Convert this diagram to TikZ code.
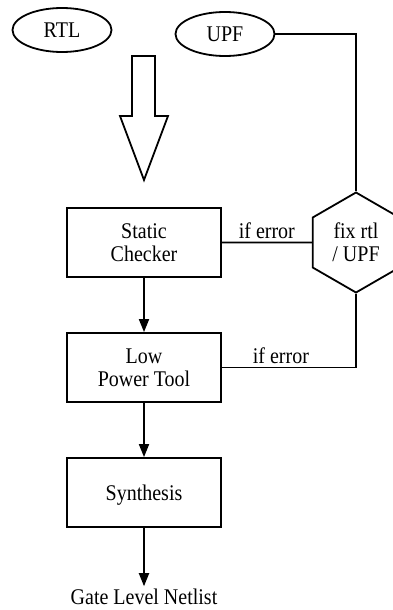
\documentclass[tikz,border=0pt]{standalone}
\usepackage{graphicx}
\usepackage{fontspec}
\setmainfont{Liberation Serif}
\usetikzlibrary{shapes.geometric,arrows.meta}
\newcommand\vstr[1]{\scalebox{1}[1.12]{\begin{tabular}{@{}c@{}}#1\end{tabular}}}
\newcommand\vtx[1]{\raisebox{-2.8pt}[\height][\depth]{\vstr{#1}}}
\begin{document}
\begin{tikzpicture}[x=1pt,y=-1pt,
  every node/.style={font=\fontsize{20}{21}\selectfont},
  line/.style={line width=1.8pt},
  arr/.style={line, -{Triangle[length=13pt,width=10pt]}},
  procbox/.style={draw, line width=1.8pt, minimum width=154pt, minimum height=69pt, align=center, inner sep=0pt},
  oval/.style={draw, ellipse, line width=1.8pt, minimum width=99pt, minimum height=44pt, inner sep=0pt},
  hexa/.style={draw, regular polygon, regular polygon sides=6, shape border rotate=30, line width=1.8pt, minimum size=100pt, inner sep=0pt, align=center},
  lbl/.style={above, inner sep=0pt, yshift=-3.5pt}
]
\useasboundingbox (0,0) rectangle (393,610);
\node[oval] (rtl) at (62,30) {\vtx{RTL}};
\node[oval] (upf) at (225,34) {\vtx{UPF}};
\draw[line, line join=miter] (132,56) -- (155,56) -- (155,116) -- (168,116) -- (144,180) -- (120,116) -- (132,116) -- cycle;
\node[procbox] (sc) at (144,242.5) {\vtx{Static\\Checker}};
\node[procbox] (lpt) at (144,367.5) {\vtx{Low\\Power Tool}};
\node[procbox] (syn) at (144,492.5) {\vtx{Synthesis}};
\node[hexa] (fix) at (356,242.5) {\vtx{fix rtl\\/ UPF}};
\node[inner sep=2pt, anchor=base] (gln) at (144,606) {\vstr{Gate Level Netlist}};
\draw[line] (upf.east) -| (fix.north);
\draw[line] (sc.east) -- node[lbl] {\vstr{if error}} (fix.west);
\draw[line] (fix.south) |- node[lbl, pos=0.78] {\vstr{if error}} (lpt.east);
\draw[arr] (sc.south) -- (lpt.north);
\draw[arr] (lpt.south) -- (syn.north);
\draw[arr] (syn.south) -- (gln.north);
\end{tikzpicture}
\end{document}
